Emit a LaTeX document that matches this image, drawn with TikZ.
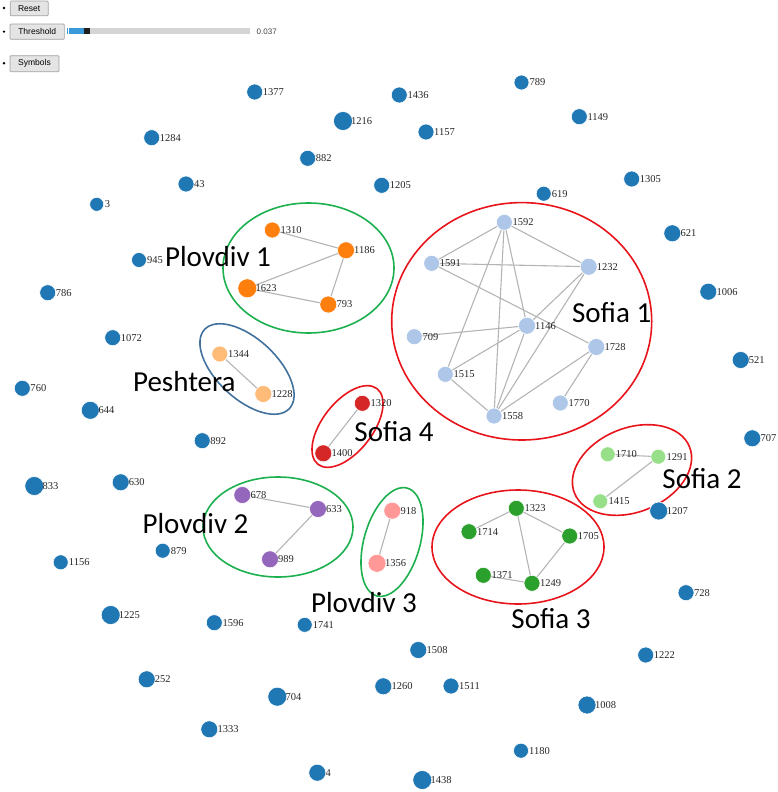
\documentclass[tikz,border=0pt]{standalone}
\usepackage{fontspec}
\setmainfont{Liberation Serif}
\newfontfamily\calib{Carlito}
\newfontfamily\arialf{Liberation Sans}
\usetikzlibrary{backgrounds}
\definecolor{cblue}{HTML}{1F77B4}
\definecolor{corange}{HTML}{FF7F0E}
\definecolor{clblue}{HTML}{AEC7E8}
\definecolor{clorange}{HTML}{FFBB78}
\definecolor{cred}{HTML}{D62728}
\definecolor{cpurple}{HTML}{9467BD}
\definecolor{cpink}{HTML}{FF9896}
\definecolor{cgreen}{HTML}{2CA02C}
\definecolor{clgreen}{HTML}{98DF8A}
\definecolor{ringgreen}{HTML}{1DB04F}
\definecolor{ringred}{HTML}{E8141B}
\definecolor{ringblue}{HTML}{41719C}
\definecolor{edgegray}{HTML}{B4B4B4}
\definecolor{btnfill}{HTML}{E4E4E4}
\definecolor{btnline}{HTML}{A0A0A0}
\definecolor{barblue}{HTML}{3A9AD9}
\tikzset{
  gnode/.style={circle, inner sep=0pt, draw=white, line width=0.6pt},
  glabel/.style={anchor=west, inner sep=0pt, font=\fontsize{10.5}{11}\selectfont, text=black!85},
  edge/.style={draw=edgegray, line width=1.1pt},
  ring/.style={line width=1.6pt},
  grouplabel/.style={font=\calib\fontsize{29}{30}\selectfont, inner sep=0pt},
  btn/.style={draw=btnline, fill=btnfill, rounded corners=1pt, inner sep=0pt, font=\arialf\fontsize{8.5}{9}\selectfont, line width=0.7pt},
  bullet/.style={circle, fill=black, inner sep=0pt, minimum size=2.6pt}
}
\newcommand\gn[6]{%
  \node[gnode, fill=#5, minimum size={2*#6*1pt}] (n#1) at (#2,#3) {};
  \node[glabel] (t#1) at ({#2+8},{#3}) {#4};
}
\begin{document}
\begin{tikzpicture}[x=1pt,y=-1pt]
\useasboundingbox (0,0) rectangle (777,792);

% controls
\node[bullet] (b1) at (4,8) {};
\node[bullet] (b2) at (4,31.7) {};
\node[bullet] (b3) at (4,63.3) {};
\node[btn, minimum width=38pt, minimum height=14.7pt] (reset) at (29.2,8.4) {Reset};
\node[btn, minimum width=54.3pt, minimum height=15.3pt] (thresh) at (37.2,31.7) {Threshold};
\node[btn, minimum width=49pt, minimum height=16pt] (symb) at (34.5,63.7) {Symbols};
\node[fill=black!17, inner sep=0pt, minimum width=183.3pt, minimum height=6.6pt, anchor=west] (bar) at (66.7,31) {};
\node[fill=barblue, inner sep=0pt, minimum width=16.6pt, minimum height=6.6pt, anchor=west] (barb) at (66.7,31) {};
\node[fill=white, inner sep=0pt, minimum width=0.8pt, minimum height=6.6pt, anchor=west] (barw) at (68.2,31) {};
\node[fill=black!88, inner sep=0pt, minimum width=6.7pt, minimum height=6.6pt, anchor=west] (bark) at (83.3,31) {};
\node[anchor=west, inner sep=0pt, font=\arialf\fontsize{8}{9}\selectfont, text=black!75] (thval) at (256.5,31.7) {0.037};

% group rings
\draw[ring, ringgreen] (308.5,268) ellipse [x radius=85.5, y radius=65];
\draw[ring, ringred] (521.7,321.3) ellipse [x radius=130, y radius=118.7];
\draw[ring, ringblue, rotate around={-43:(247,369)}] (247,369) ellipse [x radius=58, y radius=30];
\draw[ring, ringred, rotate around={52:(347.5,426.5)}] (347.5,426.5) ellipse [x radius=48, y radius=25];
\draw[ring, ringgreen] (278,527) ellipse [x radius=75, y radius=50];
\draw[ring, ringgreen, rotate around={74:(392,542)}] (392,542) ellipse [x radius=56, y radius=28];
\draw[ring, ringred, rotate around={22:(632,470)}] (632,470) ellipse [x radius=62, y radius=42];
\draw[ring, ringred] (518,547) ellipse [x radius=86, y radius=57];

% isolated nodes
\gn{1377}{254.7}{92}{1377}{cblue}{8}
\gn{1436}{399.3}{95}{1436}{cblue}{8}
\gn{789}{521.5}{82.5}{789}{cblue}{7.5}
\gn{1149}{579.3}{116.7}{1149}{cblue}{8}
\gn{1216}{343}{121}{1216}{cblue}{9.5}
\gn{1157}{426}{132}{1157}{cblue}{8}
\gn{1284}{151.7}{137.7}{1284}{cblue}{8}
\gn{882}{307.7}{158.3}{882}{cblue}{8}
\gn{43}{186}{184}{43}{cblue}{8}
\gn{1205}{381.7}{185.3}{1205}{cblue}{8}
\gn{619}{543.7}{193.7}{619}{cblue}{7.5}
\gn{1305}{631.7}{179}{1305}{cblue}{8}
\gn{3}{96.7}{204.3}{3}{cblue}{7}
\gn{621}{672.3}{233.3}{621}{cblue}{8.5}
\gn{945}{139}{260}{945}{cblue}{7.5}
\gn{786}{47.7}{292.7}{786}{cblue}{8}
\gn{1006}{708.3}{291.7}{1006}{cblue}{8.5}
\gn{1072}{112.7}{337.7}{1072}{cblue}{8}
\gn{521}{740.7}{360}{521}{cblue}{8.5}
\gn{760}{22.3}{388.3}{760}{cblue}{8}
\gn{644}{90.3}{410.3}{644}{cblue}{9}
\gn{707}{752.3}{438.3}{707}{cblue}{8.5}
\gn{892}{202.2}{440.7}{892}{cblue}{8}
\gn{833}{34.3}{486}{833}{cblue}{9.5}
\gn{630}{120.7}{482.3}{630}{cblue}{8.5}
\gn{1207}{658.7}{511}{1207}{cblue}{9}
\gn{879}{162.7}{550.7}{879}{cblue}{7.5}
\gn{1156}{60.7}{562.3}{1156}{cblue}{7.5}
\gn{728}{686}{592.7}{728}{cblue}{8}
\gn{1225}{110.7}{615}{1225}{cblue}{9.5}
\gn{1596}{214.3}{622.7}{1596}{cblue}{8}
\gn{1741}{304.7}{624.8}{1741}{cblue}{7.5}
\gn{1508}{418.3}{650}{1508}{cblue}{8.5}
\gn{1222}{645.7}{655}{1222}{cblue}{8}
\gn{252}{146.7}{679.3}{252}{cblue}{8.5}
\gn{1260}{383.3}{686.3}{1260}{cblue}{8.5}
\gn{1511}{451}{686}{1511}{cblue}{8}
\gn{704}{277.3}{696.7}{704}{cblue}{9.5}
\gn{1008}{587}{705}{1008}{cblue}{9}
\gn{1333}{209.3}{729.3}{1333}{cblue}{8.5}
\gn{1180}{521}{750.7}{1180}{cblue}{7.5}
\gn{4}{317.3}{772.7}{4}{cblue}{8.5}
\gn{1438}{422.3}{780}{1438}{cblue}{9.5}

% Plovdiv 1
\gn{1310}{272.3}{230}{1310}{corange}{8}
\gn{1186}{346}{250.3}{1186}{corange}{8.5}
\gn{1623}{247.3}{288.3}{1623}{corange}{9.5}
\gn{793}{328.3}{304.5}{793}{corange}{8.5}

% Sofia 1
\gn{1592}{504.3}{222.3}{1592}{clblue}{8}
\gn{1591}{431.7}{263.3}{1591}{clblue}{8}
\gn{1232}{588.7}{266.7}{1232}{clblue}{8.5}
\gn{1146}{527}{325.7}{1146}{clblue}{8.5}
\gn{709}{414.3}{336.7}{709}{clblue}{8}
\gn{1728}{596.3}{347}{1728}{clblue}{8.5}
\gn{1515}{445.3}{374.3}{1515}{clblue}{8}
\gn{1770}{560.3}{403}{1770}{clblue}{8}
\gn{1558}{494}{416}{1558}{clblue}{8}

% Peshtera
\gn{1344}{219.8}{354}{1344}{clorange}{8}
\gn{1228}{263.3}{394}{1228}{clorange}{8.5}

% Sofia 4
\gn{1320}{362.3}{403.3}{1320}{cred}{8}
\gn{1400}{323.3}{453.3}{1400}{cred}{8.5}

% Plovdiv 2
\gn{678}{242.3}{495}{678}{cpurple}{8.5}
\gn{633}{318}{509}{633}{cpurple}{8.5}
\gn{989}{270}{559.3}{989}{cpurple}{8.5}

% Plovdiv 3
\gn{918}{392.3}{510.7}{918}{cpink}{8.5}
\gn{1356}{377}{563.3}{1356}{cpink}{9}

% Sofia 2
\gn{1710}{607.7}{454.3}{1710}{clgreen}{7.5}
\gn{1291}{658.3}{456.7}{1291}{clgreen}{7.5}
\gn{1415}{600.3}{501.3}{1415}{clgreen}{7.5}

% Sofia 3
\gn{1323}{516.3}{508.3}{1323}{cgreen}{8}
\gn{1714}{469}{531.7}{1714}{cgreen}{8}
\gn{1705}{569.7}{536}{1705}{cgreen}{8}
\gn{1371}{483.3}{575.3}{1371}{cgreen}{8}
\gn{1249}{532}{583.3}{1249}{cgreen}{8}

% edges
\begin{scope}[on background layer]
\draw[edge] (n1310.center) -- (n1186.center);
\draw[edge] (n1186.center) -- (n1623.center);
\draw[edge] (n1186.center) -- (n793.center);
\draw[edge] (n1623.center) -- (n793.center);
\draw[edge] (n1592.center) -- (n1591.center);
\draw[edge] (n1592.center) -- (n1232.center);
\draw[edge] (n1592.center) -- (n1515.center);
\draw[edge] (n1592.center) -- (n1558.center);
\draw[edge] (n1592.center) -- (n1146.center);
\draw[edge] (n1591.center) -- (n1232.center);
\draw[edge] (n1591.center) -- (n1728.center);
\draw[edge] (n1232.center) -- (n1146.center);
\draw[edge] (n1232.center) -- (n1558.center);
\draw[edge] (n1146.center) -- (n709.center);
\draw[edge] (n1146.center) -- (n1515.center);
\draw[edge] (n1146.center) -- (n1558.center);
\draw[edge] (n1515.center) -- (n1558.center);
\draw[edge] (n1728.center) -- (n1558.center);
\draw[edge] (n1728.center) -- (n1770.center);
\draw[edge] (n1344.center) -- (n1228.center);
\draw[edge] (n1320.center) -- (n1400.center);
\draw[edge] (n678.center) -- (n633.center);
\draw[edge] (n633.center) -- (n989.center);
\draw[edge] (n918.center) -- (n1356.center);
\draw[edge] (n1710.center) -- (n1291.center);
\draw[edge] (n1291.center) -- (n1415.center);
\draw[edge] (n1323.center) -- (n1714.center);
\draw[edge] (n1323.center) -- (n1705.center);
\draw[edge] (n1323.center) -- (n1249.center);
\draw[edge] (n1705.center) -- (n1249.center);
\draw[edge] (n1371.center) -- (n1249.center);
\end{scope}

% group labels
\node[grouplabel] (lp1) at (218,257) {Plovdiv 1};
\node[grouplabel] (ls1) at (611.7,313) {Sofia 1};
\node[grouplabel] (lpe) at (184.3,382) {Peshtera};
\node[grouplabel] (ls4) at (394,432) {Sofia 4};
\node[grouplabel] (ls2) at (702,479) {Sofia 2};
\node[grouplabel] (lp2) at (195.5,524) {Plovdiv 2};
\node[grouplabel] (lp3) at (364,602.5) {Plovdiv 3};
\node[grouplabel] (ls3) at (551,619) {Sofia 3};
\end{tikzpicture}
\end{document}
